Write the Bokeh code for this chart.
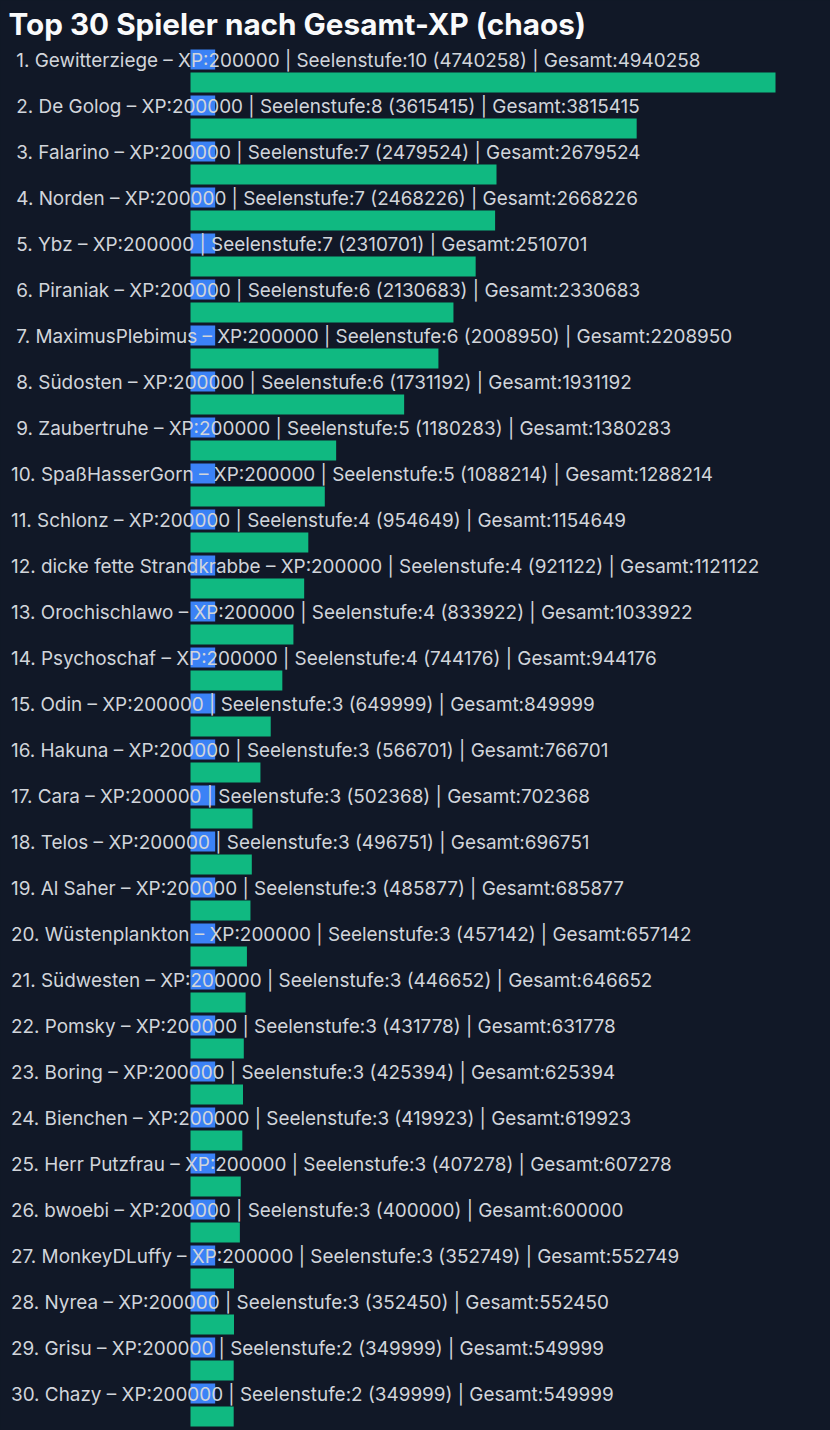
from bokeh.plotting import figure
from bokeh.models import Range1d, ColumnDataSource
from bokeh.core.properties import value
from bokeh.embed import file_html
from bokeh.resources import INLINE

# ---- data ----
names = ["Gewitterziege", "De Golog", "Falarino", "Norden", "Ybz", "Piraniak",
         "MaximusPlebimus", "Südosten", "Zaubertruhe", "SpaßHasserGorn", "Schlonz",
         "dicke fette Strandkrabbe", "Orochischlawo", "Psychoschaf", "Odin", "Hakuna",
         "Cara", "Telos", "Al Saher", "Wüstenplankton", "Südwesten", "Pomsky",
         "Boring", "Bienchen", "Herr Putzfrau", "bwoebi", "MonkeyDLuffy", "Nyrea",
         "Grisu", "Chazy"]
xp = [200000] * 30
seelenstufe = [10, 8, 7, 7, 7, 6, 6, 6, 5, 5, 4, 4, 4, 4, 3, 3, 3, 3, 3, 3,
               3, 3, 3, 3, 3, 3, 3, 3, 2, 2]
seelen_xp = [4740258, 3615415, 2479524, 2468226, 2310701, 2130683, 2008950,
             1731192, 1180283, 1088214, 954649, 921122, 833922, 744176, 649999,
             566701, 502368, 496751, 485877, 457142, 446652, 431778, 425394,
             419923, 407278, 400000, 352749, 352450, 349999, 349999]
gesamt = [4940258, 3815415, 2679524, 2668226, 2510701, 2330683, 2208950,
          1931192, 1380283, 1288214, 1154649, 1121122, 1033922, 944176, 849999,
          766701, 702368, 696751, 685877, 657142, 646652, 631778, 625394,
          619923, 607278, 600000, 552749, 552450, 549999, 549999]
title_text = "Top 30 Spieler nach Gesamt-XP (chaos)"

# ---- layout ----
W, H = 830, 1430
ORIGIN_PX = 190          # pixel where value 0 sits
UNITS_PER_PX = 4740258 / 585.0
ROW_PX = 46.0
FIRST_ROW_PX = 70.5      # centre of first row (pixels from top)

x_start = -ORIGIN_PX * UNITS_PER_PX
x_end = (W - ORIGIN_PX) * UNITS_PER_PX
y_top = -FIRST_ROW_PX / ROW_PX
y_bottom = (H - FIRST_ROW_PX) / ROW_PX

BG = "#111827"
BLUE = "#3b82f6"
GREEN = "#10b981"
TEXT = "#d1d5db"

p = figure(width=W, height=H, output_backend="svg", toolbar_location=None,
           x_range=Range1d(x_start, x_end), y_range=Range1d(y_bottom, y_top),
           min_border=0, background_fill_color=BG, border_fill_color=BG,
           outline_line_color=None)
p.xaxis.visible = False
p.yaxis.visible = False
p.grid.visible = False

idx = list(range(len(names)))
labels = [f"{str(i + 1).rjust(2, chr(160))}. {n} – XP:{x} | Seelenstufe:{s} ({sx}) | Gesamt:{g}"
          for i, (n, x, s, sx, g) in enumerate(zip(names, xp, seelenstufe, seelen_xp, gesamt))]

bar_h = 20 / ROW_PX
off = 11.5 / ROW_PX
src = ColumnDataSource(dict(
    y_blue=[i - off for i in idx],
    y_green=[i + off for i in idx],
    y_text=[i - 10.8 / ROW_PX for i in idx],
    x_text=[x_start + 10.5 * UNITS_PER_PX] * len(idx),
    xp=xp, seelen=seelen_xp, label=labels,
))

p.hbar(y="y_green", left=0, right="seelen", height=bar_h, source=src,
       fill_color=GREEN, line_color=None)
p.hbar(y="y_blue", left=0, right="xp", height=bar_h, source=src,
       fill_color=BLUE, line_color=None)
p.text(x="x_text", y="y_text", text="label", source=src,
       text_font=value("Inter"), text_font_size="18.9px", text_color=TEXT,
       text_baseline="alphabetic", text_align="left")

p.text(x=[x_start + 8 * UNITS_PER_PX], y=[(23.3 - FIRST_ROW_PX) / ROW_PX],
       text=[title_text], text_font=value("Inter"), text_font_size="29.7px",
       text_font_style="bold", text_color="#f9fafb",
       text_baseline="alphabetic", text_align="left")

html = file_html(p, INLINE)
html = html.replace("<head>", "<head><style>html,body{background:#111827;}</style>", 1)
open("out.html", "w").write(html)
